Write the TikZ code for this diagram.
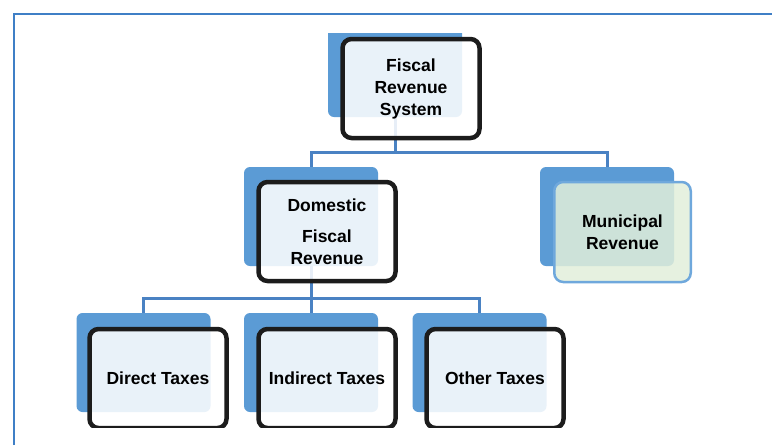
\documentclass[tikz,border=0pt]{standalone}
\usepackage{fontspec}
\setmainfont{Liberation Sans}
\usepackage{tikz}
\usetikzlibrary{positioning}
\definecolor{boxblue}{HTML}{5B9BD5}
\definecolor{linkblue}{HTML}{4A82C3}
\definecolor{frameblue}{HTML}{3F7FC6}
\definecolor{munfill}{HTML}{E2EFDA}
\definecolor{munline}{HTML}{6FA8DC}
\definecolor{darkline}{HTML}{1C1C1C}
\tikzset{
    backbox/.style={
        rectangle,
        rounded corners=6pt,
        fill=boxblue,
        minimum width=134pt,
        minimum height=99pt,
        inner sep=0pt
    },
    frontbox/.style={
        rectangle,
        rounded corners=9pt,
        draw=darkline,
        line width=4.5pt,
        fill=white,
        fill opacity=0.87,
        text opacity=1,
        minimum width=137pt,
        minimum height=99pt,
        inner sep=0pt,
        align=center,
        font=\fontsize{17.5}{22}\selectfont\bfseries
    },
    link/.style={
        draw=linkblue,
        line width=3pt
    }
}

\begin{document}
\begin{tikzpicture}[x=1pt, y=-1pt]
    \useasboundingbox (0,0) rectangle (772,445);
    \draw[frameblue, line width=2pt] (14,445) -- (14,14) -- (772,14);

    \begin{scope}
    \clip (14,33) rectangle (772,427);
    % blue boxes behind
    \node[backbox] (fiscB) at (395,67.5) {};
    \node[backbox] (domB) at (311,216.5) {};
    \node[backbox] (munB) at (607,216.5) {};
    \node[backbox] (dirB) at (143.5,362.5) {};
    \node[backbox] (indB) at (311,362.5) {};
    \node[backbox] (othB) at (479.5,362.5) {};

    \draw[link] (fiscB.south) -- ++(0,35) -| (domB.north);
    \draw[link] (fiscB.south) -- ++(0,35) -| (munB.north);
    \draw[link] (domB.south) -- ++(0,32) -| (dirB.north);
    \draw[link] (domB.south) -- ++(0,32) -| (indB.north);
    \draw[link] (domB.south) -- ++(0,32) -| (othB.north);

    % front boxes
    \node[frontbox] (fiscF) at (411,88.5) {Fiscal\\Revenue\\System};
    \node[frontbox] (domF) at (327,231.5) {Domestic\\[9pt]Fiscal\\Revenue};
    \node[frontbox, draw=munline, line width=2.5pt, fill=munfill, fill opacity=0.85,
          minimum width=136.5pt, minimum height=100pt] (munF) at (622.5,232) {Municipal\\Revenue};
    \node[frontbox] (dirF) at (158,378.5) {Direct Taxes};
    \node[frontbox] (indF) at (327,378.5) {Indirect Taxes};
    \node[frontbox] (othF) at (495,378.5) {Other Taxes};
    \end{scope}
\end{tikzpicture}
\end{document}
